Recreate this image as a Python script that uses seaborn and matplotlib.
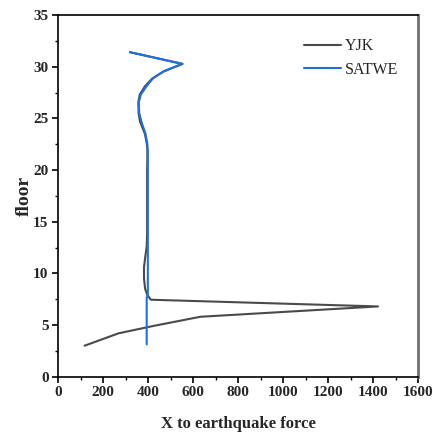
import matplotlib
matplotlib.use("Agg")
import matplotlib.pyplot as plt
from matplotlib.ticker import MultipleLocator
import seaborn as sns
import pandas as pd

# Storey shear under X-direction earthquake, two design programs
yjk_floor = [3.0, 4.2, 4.9, 5.8, 6.8, 7.45, 7.9, 8.5, 9.5, 10.6, 11.5, 12.6, 14.0,
             16.0, 18.0, 20.0, 21.0, 22.0, 22.6, 23.5, 24.7, 25.5, 26.6, 27.3,
             28.1, 28.8, 29.5, 30.27, 31.4]
yjk_force = [117, 268, 420, 631, 1421, 411, 396, 386, 381, 381, 386, 393, 395,
             395, 395, 395, 396, 396, 393, 385, 363, 357, 356, 362,
             385, 415, 465, 551, 319]

satwe_floor = [3.13, 7.7, 7.75, 14.0, 20.0, 21.5, 22.5, 23.5, 24.5, 25.5, 26.5,
               27.3, 28.1, 28.9, 29.6, 30.27, 31.4]
satwe_force = [393, 393, 398, 398, 398, 398, 396, 388, 372, 360, 357,
               367, 392, 422, 472, 553, 319]

x_ticks = [0, 200, 400, 600, 800, 1000, 1200, 1400, 1600]
y_ticks = [0, 5, 10, 15, 20, 25, 30, 35]

sns.set_theme(style="white")
plt.rcParams["font.family"] = ["Liberation Serif", "DejaVu Serif"]

df = pd.concat([
    pd.DataFrame({"force": yjk_force, "floor": yjk_floor, "program": "YJK"}),
    pd.DataFrame({"force": satwe_force, "floor": satwe_floor, "program": "SATWE"}),
], ignore_index=True)

fig = plt.figure(figsize=(4.33, 4.34), dpi=100)
ax = fig.add_axes([0.1346, 0.132, 0.8314, 0.8334])

sns.lineplot(data=df, x="force", y="floor", hue="program", sort=False,
             estimator=None, palette={"YJK": "#4a4a4a", "SATWE": "#1f6fe0"},
             linewidth=1.5, ax=ax)

ax.set_xlim(0, 1600)
ax.set_ylim(0, 35)
ax.set_xticks(x_ticks)
ax.set_yticks(y_ticks)
ax.xaxis.set_minor_locator(MultipleLocator(100))
ax.yaxis.set_minor_locator(MultipleLocator(2.5))
ax.tick_params(axis="both", which="major", direction="out", length=4, width=1.2,
               color="black", labelsize=11, pad=3, bottom=True, left=True)
ax.tick_params(axis="both", which="minor", direction="out", length=2.5, width=1.0,
               color="black", bottom=True, left=True)
for lab in ax.get_xticklabels() + ax.get_yticklabels():
    lab.set_fontweight("bold")

for side in ["left", "bottom", "top"]:
    ax.spines[side].set_color("black")
    ax.spines[side].set_linewidth(1.2)
ax.spines["right"].set_color("#707070")
ax.spines["right"].set_linewidth(2.0)

ax.set_xlabel("X to earthquake force", fontsize=12, fontweight="bold", labelpad=12)
ax.set_ylabel("floor", fontsize=14, fontweight="bold", labelpad=0)

leg = ax.legend(loc="upper right", bbox_to_anchor=(0.983, 0.975), frameon=False,
                fontsize=11.5, handlelength=2.3, handletextpad=0.2,
                labelspacing=0.45, title=None)

fig.savefig("out.png", dpi=100)
